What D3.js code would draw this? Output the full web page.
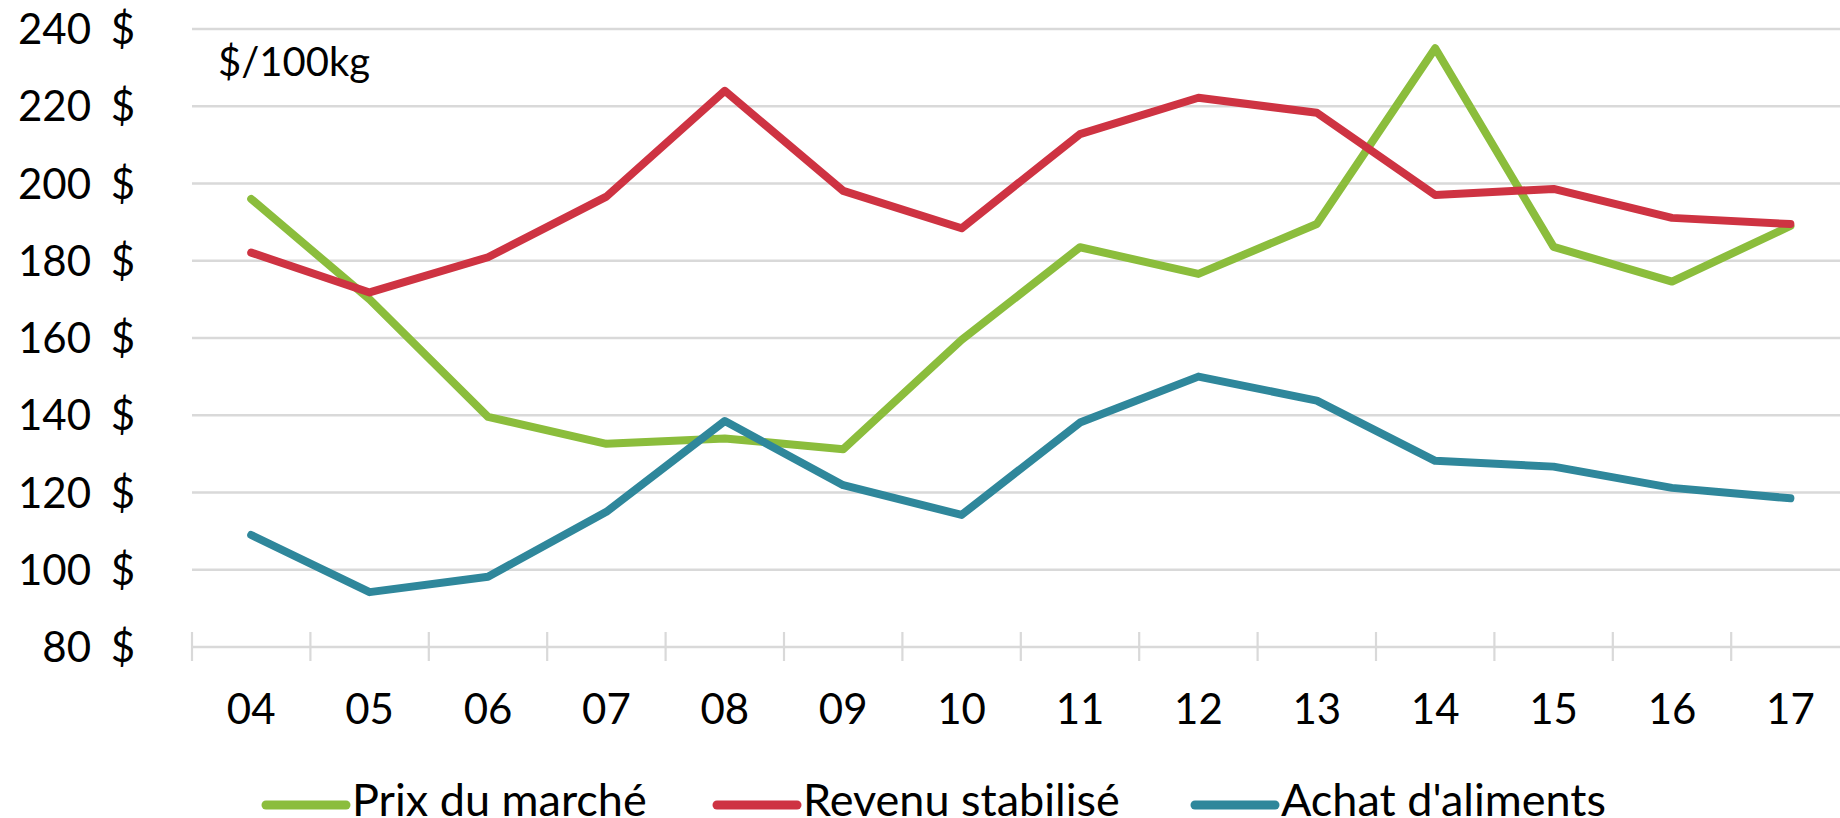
<!DOCTYPE html>
<html>
<head>
<meta charset="utf-8">
<script src="https://cdn.jsdelivr.net/npm/d3@7"></script>
<style>
    html, body { margin: 0; padding: 0; background: #fff; overflow: hidden; }
    svg { display: block; font-family: Lato, "Open Sans", sans-serif; }
</style>
</head>
<body>
<svg width="1840" height="818"></svg>
<script>
// années (axe x)
const years = ['04', '05', '06', '07', '08', '09', '10', '11', '12', '13', '14', '15', '16', '17'];

// $/100kg
const prixMarche = [196, 170, 139.6, 132.6, 134, 131.2, 159.5, 183.5, 176.6, 189.5, 235, 183.6, 174.6, 189];
const revenuStabilise = [182.1, 171.8, 180.9, 196.6, 224, 198.1, 188.4, 212.8, 222.2, 218.3, 197, 198.6, 191.1, 189.5];
const achatAliments = [109, 94.2, 98.2, 115, 138.5, 121.9, 114.2, 138.1, 150, 143.8, 128.2, 126.7, 121.2, 118.5];

const yTicks = [80, 100, 120, 140, 160, 180, 200, 220, 240];
const seriesNames = ['Prix du marché', 'Revenu stabilisé', "Achat d'aliments"];
const colors = ['#8BBD3C', '#CE3342', '#2F879B'];
const unitLabel = '$/100kg';

const svg = d3.select('svg');
const left = 192;
const band = 118.4;

const x = d3.scaleBand()
.domain(years)
.range([left, left + band * years.length])
.padding(0);

const y = d3.scaleLinear()
.domain([80, 240])
.range([647, 29]);

// grille
svg.append('g')
.selectAll('line')
.data(yTicks.slice(1))
.enter().append('line')
.attr('x1', left)
.attr('x2', 1860)
.attr('y1', d => y(d))
.attr('y2', d => y(d))
.attr('stroke', '#D9D9D9')
.attr('stroke-width', 2.7);

// axe x
const xAxis = svg.append('g').attr('transform', `translate(0,${y(80)})`);
xAxis.append('line')
.attr('x1', left)
.attr('x2', 1860)
.attr('stroke', '#D9D9D9')
.attr('stroke-width', 2.7);
xAxis.selectAll('line.tick')
.data(years)
.enter().append('line')
.attr('class', 'tick')
.attr('x1', d => x(d))
.attr('x2', d => x(d))
.attr('y1', -15)
.attr('y2', 14)
.attr('stroke', '#D9D9D9')
.attr('stroke-width', 2.2);
xAxis.selectAll('text')
.data(years)
.enter().append('text')
.attr('x', d => x(d) + x.bandwidth() / 2)
.attr('y', 77)
.attr('text-anchor', 'middle')
.attr('font-size', 42)
.attr('fill', '#000')
.text(d => d);

// axe y
const yAxis = svg.append('g');
yAxis.selectAll('text.num')
.data(yTicks)
.enter().append('text')
.attr('class', 'num')
.attr('x', 91)
.attr('y', d => y(d) + 15)
.attr('text-anchor', 'end')
.attr('font-size', 42)
.text(d => d);
yAxis.selectAll('text.cur')
.data(yTicks)
.enter().append('text')
.attr('class', 'cur')
.attr('x', 135)
.attr('y', d => y(d) + 15)
.attr('text-anchor', 'end')
.attr('font-size', 42)
.text('$');

svg.append('text')
.attr('x', 218)
.attr('y', 76)
.attr('font-size', 40)
.text(unitLabel);

// courbes
const line = d3.line()
.x((d, i) => x(years[i]) + x.bandwidth() / 2)
.y(d => y(d));

[prixMarche, revenuStabilise, achatAliments].forEach((s, i) => {
    svg.append('path')
    .datum(s)
    .attr('d', line)
    .attr('fill', 'none')
    .attr('stroke', colors[i])
    .attr('stroke-width', 8)
    .attr('stroke-linejoin', 'round')
    .attr('stroke-linecap', 'round');
});

// légende (coupée en bas comme l'original)
const legendX = [262, 713, 1191];
const legend = svg.append('g').attr('transform', 'translate(0,805)');
seriesNames.forEach((name, i) => {
    legend.append('line')
    .attr('x1', legendX[i] + 4)
    .attr('x2', legendX[i] + 84)
    .attr('stroke', colors[i])
    .attr('stroke-width', 9)
    .attr('stroke-linecap', 'round');
    legend.append('text')
    .attr('x', legendX[i] + 90)
    .attr('y', 11)
    .attr('font-size', 45)
    .text(name);
});
</script>
</body>
</html>
